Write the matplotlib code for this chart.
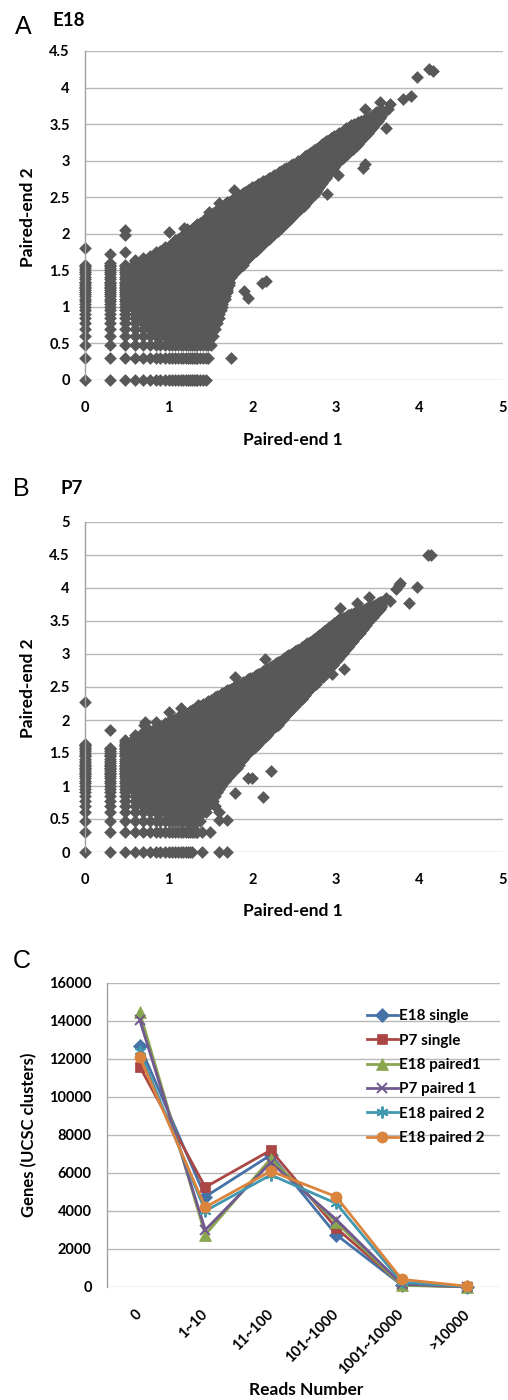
import numpy as np
import matplotlib
matplotlib.use("Agg")
import matplotlib.pyplot as plt

W, H = 508, 1400
DPI = 100

plt.rcParams['font.family'] = ['Lato', 'DejaVu Sans']
plt.rcParams['font.weight'] = 'bold'

# ---------------------------------------------------------------
# A / B: log10 read counts, paired-end 1 vs paired-end 2.
# The clouds hold thousands of genes, so they are kept as their
# outline (upper and lower edge vs x); the
# marks are the log10 integer-count pairs that fall inside it.
# ---------------------------------------------------------------
A_TOP_X = [0.0, 0.3, 0.48, 0.6, 0.8, 1.0, 1.2, 1.4, 1.6, 1.8, 2.0, 2.2, 2.4, 2.6, 2.8, 3.0, 3.2, 3.4, 3.55]
A_TOP_Y = [1.6, 1.62, 1.58, 1.65, 1.72, 1.85, 2.02, 2.18, 2.36, 2.5, 2.64, 2.76, 2.9, 3.04, 3.2, 3.36, 3.5, 3.6, 3.72]
A_LOW_X = [0.0, 1.45, 1.5, 1.55, 1.65, 1.75, 2.0, 2.28, 2.5, 2.72, 3.0, 3.25, 3.55]
A_LOW_Y = [0.0, 0.0, 0.3, 0.65, 1.0, 1.4, 1.72, 2.0, 2.25, 2.5, 2.95, 3.2, 3.6]
A_OUT_X = [0.0, 0.3, 0.48, 0.48, 0.48, 1.0, 1.18, 1.22, 1.48, 1.6, 1.78, 1.75, 1.9, 1.95, 2.12, 2.17,
           2.9, 3.03, 3.32, 3.35, 3.6, 3.62, 3.65, 3.8, 3.9, 3.97, 4.12, 4.16, 3.53, 3.35]
A_OUT_Y = [1.8, 1.72, 1.75, 1.98, 2.05, 2.03, 2.08, 2.07, 2.3, 2.42, 2.6, 0.3, 1.22, 1.12, 1.33, 1.36,
           2.54, 2.8, 2.9, 2.95, 3.44, 3.7, 3.77, 3.84, 3.89, 4.14, 4.25, 4.23, 3.8, 3.7]

B_TOP_X = [0.0, 0.3, 0.48, 0.6, 0.7, 1.0, 1.2, 1.4, 1.6, 1.8, 2.0, 2.2, 2.45, 2.7, 3.0, 3.2, 3.4, 3.55]
B_TOP_Y = [1.65, 1.58, 1.72, 1.78, 1.82, 1.98, 2.1, 2.25, 2.38, 2.52, 2.65, 2.8, 3.0, 3.2, 3.5, 3.62, 3.72, 3.8]
B_LOW_X = [0.0, 1.3, 1.35, 1.45, 1.64, 1.96, 2.36, 2.72, 3.08, 3.4, 3.55]
B_LOW_Y = [0.0, 0.0, 0.3, 0.6, 1.0, 1.5, 2.0, 2.5, 3.0, 3.5, 3.7]
B_OUT_X = [0.0, 0.3, 0.7, 0.72, 0.85, 1.0, 1.15, 1.35, 1.8, 2.15, 1.8, 2.13, 2.22, 1.95, 2.0, 1.6, 1.7,
           1.4, 1.5, 1.4, 1.6, 1.7, 1.6, 1.55, 3.1, 2.95, 2.85, 3.05, 3.25, 3.4, 3.6, 3.65, 3.75,
           3.77, 3.88, 3.97, 4.1, 4.14, 3.72]
B_OUT_Y = [2.28, 1.85, 1.92, 1.97, 1.97, 2.12, 2.18, 2.22, 2.65, 2.93, 0.9, 0.84, 1.23, 1.12, 1.12, 0.48, 0.48,
           0.3, 0.3, 0.0, 0.0, 0.0, 0.6, 0.7, 2.78, 2.7, 2.65, 3.7, 3.78, 3.87, 3.85, 3.8, 4.05,
           4.08, 3.78, 4.01, 4.5, 4.5, 3.99]

# ---------------------------------------------------------------
# C: genes per read-count bin
# ---------------------------------------------------------------
C_CATS = ['0', '1~10', '11~100', '101~1000', '1001~10000', '>10000']
E18_SINGLE = [12700, 4750, 6950, 2750, 100, 20]
P7_SINGLE = [11600, 5250, 7200, 3100, 120, 15]
E18_PAIRED1 = [14450, 2750, 6750, 3400, 80, 10]
P7_PAIRED1 = [14050, 3000, 6550, 3550, 150, 10]
E18_PAIRED2 = [12400, 4000, 5900, 4400, 250, 20]
E18_PAIRED2_B = [12100, 4200, 6100, 4750, 400, 40]
C_LABELS = ['E18 single', 'P7 single', 'E18 paired1', 'P7 paired 1', 'E18 paired 2', 'E18 paired 2']

DOT = '#585858'
GRID = '#b8b8b8'
AXIS = '#a0a0a0'
DOT_S = 42


def count_levels(max_count=20000, min_gap=0.02):
    # log10 of integer read counts, thinned where the markers overlap anyway
    levels = []
    for v in np.log10(np.arange(1, max_count + 1)):
        if not levels or v - levels[-1] >= min_gap:
            levels.append(v)
    return np.array(levels)


def cloud(top_x, top_y, low_x, low_y):
    lv = count_levels()
    xs, ys = [], []
    for x in lv[lv <= top_x[-1] + 1e-9]:
        hi = np.interp(x, top_x, top_y)
        lo = np.interp(x, low_x, low_y)
        sel = lv[(lv >= lo - 1e-9) & (lv <= hi + 1e-9)]
        xs.extend([x] * len(sel))
        ys.extend(sel)
    return np.array(xs), np.array(ys)


def px_axes(left, top, right, bottom):
    return fig.add_axes([left / W, 1 - bottom / H, (right - left) / W, (bottom - top) / H])


def ftext(x, y, s, **kw):
    fig.text(x / W, 1 - y / H, s, **kw)


def style_axes(ax):
    for side in ['top', 'right', 'bottom']:
        ax.spines[side].set_visible(False)
    ax.spines['left'].set_color(AXIS)
    ax.spines['left'].set_linewidth(1.0)
    ax.yaxis.grid(True, color=GRID, linewidth=1.0)
    ax.set_axisbelow(True)
    ax.tick_params(length=0, labelsize=10.5)


def scatter_panel(ax, top_x, top_y, low_x, low_y, out_x, out_y, ymax):
    cx, cy = cloud(top_x, top_y, low_x, low_y)
    ax.scatter(cx, cy, marker='D', s=DOT_S, color=DOT, linewidths=0, clip_on=False)
    ax.scatter(out_x, out_y, marker='D', s=DOT_S, color=DOT, linewidths=0, clip_on=False)
    ax.set_xlim(0, 5)
    ax.set_ylim(0, ymax)
    yt = np.arange(0, ymax + 0.01, 0.5)
    ax.set_yticks(yt)
    ax.set_yticklabels(['%g' % v for v in yt])
    ax.set_xticks(range(6))
    ax.set_xticklabels([str(v) for v in range(6)])
    style_axes(ax)
    ax.tick_params(axis='y', pad=11)
    ax.tick_params(axis='x', pad=15)


fig = plt.figure(figsize=(W / DPI, H / DPI), dpi=DPI)

# ---- A ----
axA = px_axes(85, 51, 503, 380)
scatter_panel(axA, A_TOP_X, A_TOP_Y, A_LOW_X, A_LOW_Y, A_OUT_X, A_OUT_Y, 4.5)
ftext(23, 27, 'A', fontsize=18, family='Liberation Sans', fontweight='normal', ha='center', va='center')
ftext(53, 21, 'E18', fontsize=13.5, ha='left', va='center')
ftext(28, 217, 'Paired-end 2', fontsize=12.5, rotation=90, ha='center', va='center')
ftext(293, 440, 'Paired-end 1', fontsize=12.5, ha='center', va='center')

# ---- B ----
axB = px_axes(85, 522, 503, 852)
scatter_panel(axB, B_TOP_X, B_TOP_Y, B_LOW_X, B_LOW_Y, B_OUT_X, B_OUT_Y, 5)
ftext(21, 489, 'B', fontsize=18, family='Liberation Sans', fontweight='normal', ha='center', va='center')
ftext(60, 488, 'P7', fontsize=13.5, ha='left', va='center')
ftext(28, 688, 'Paired-end 2', fontsize=12.5, rotation=90, ha='center', va='center')
ftext(293, 911, 'Paired-end 1', fontsize=12.5, ha='center', va='center')

# ---- C ----
axC = px_axes(107, 983, 500, 1287)
xs = np.arange(len(C_CATS))
series = [E18_SINGLE, P7_SINGLE, E18_PAIRED1, P7_PAIRED1, E18_PAIRED2, E18_PAIRED2_B]
colors = ['#4572A7', '#AA4643', '#89A54E', '#71588F', '#4198AF', '#DB843D']
markers = ['D', 's', '^', 'x', (6, 2, 0), 'o']
msizes = [7, 7.5, 8.5, 7.5, 8.5, 8]
for vals, col, mk, ms, lab in zip(series, colors, markers, msizes, C_LABELS):
    axC.plot(xs, vals, color=col, linewidth=2.0, marker=mk, markersize=ms,
             markeredgewidth=1.4 if mk in ('x', (6, 2, 0)) else 0.5,
             markeredgecolor=col, label=lab, clip_on=False)
axC.set_xlim(-0.5, len(C_CATS) - 0.5)
axC.set_ylim(0, 16000)
axC.set_yticks(np.arange(0, 16001, 2000))
axC.set_yticklabels([str(v) for v in range(0, 16001, 2000)])
axC.set_xticks(xs)
axC.set_xticklabels(C_CATS, rotation=45, ha='right', va='center', rotation_mode='anchor')
style_axes(axC)
axC.tick_params(axis='y', pad=11)
axC.tick_params(axis='x', pad=18)
leg = axC.legend(loc='upper left', bbox_to_anchor=(0.662, 0.914), frameon=False,
                 prop={'weight': 'bold', 'size': 11}, handlelength=2.0, handletextpad=0.1,
                 labelspacing=0.68, borderpad=0, borderaxespad=0)
ftext(22, 961, 'C', fontsize=18, family='Liberation Sans', fontweight='normal', ha='center', va='center')
ftext(29, 1135, 'Genes (UCSC clusters)', fontsize=12, rotation=90, ha='center', va='center')
ftext(306, 1390, 'Reads Number', fontsize=12.5, ha='center', va='center')

fig.savefig('out.png', dpi=DPI)
